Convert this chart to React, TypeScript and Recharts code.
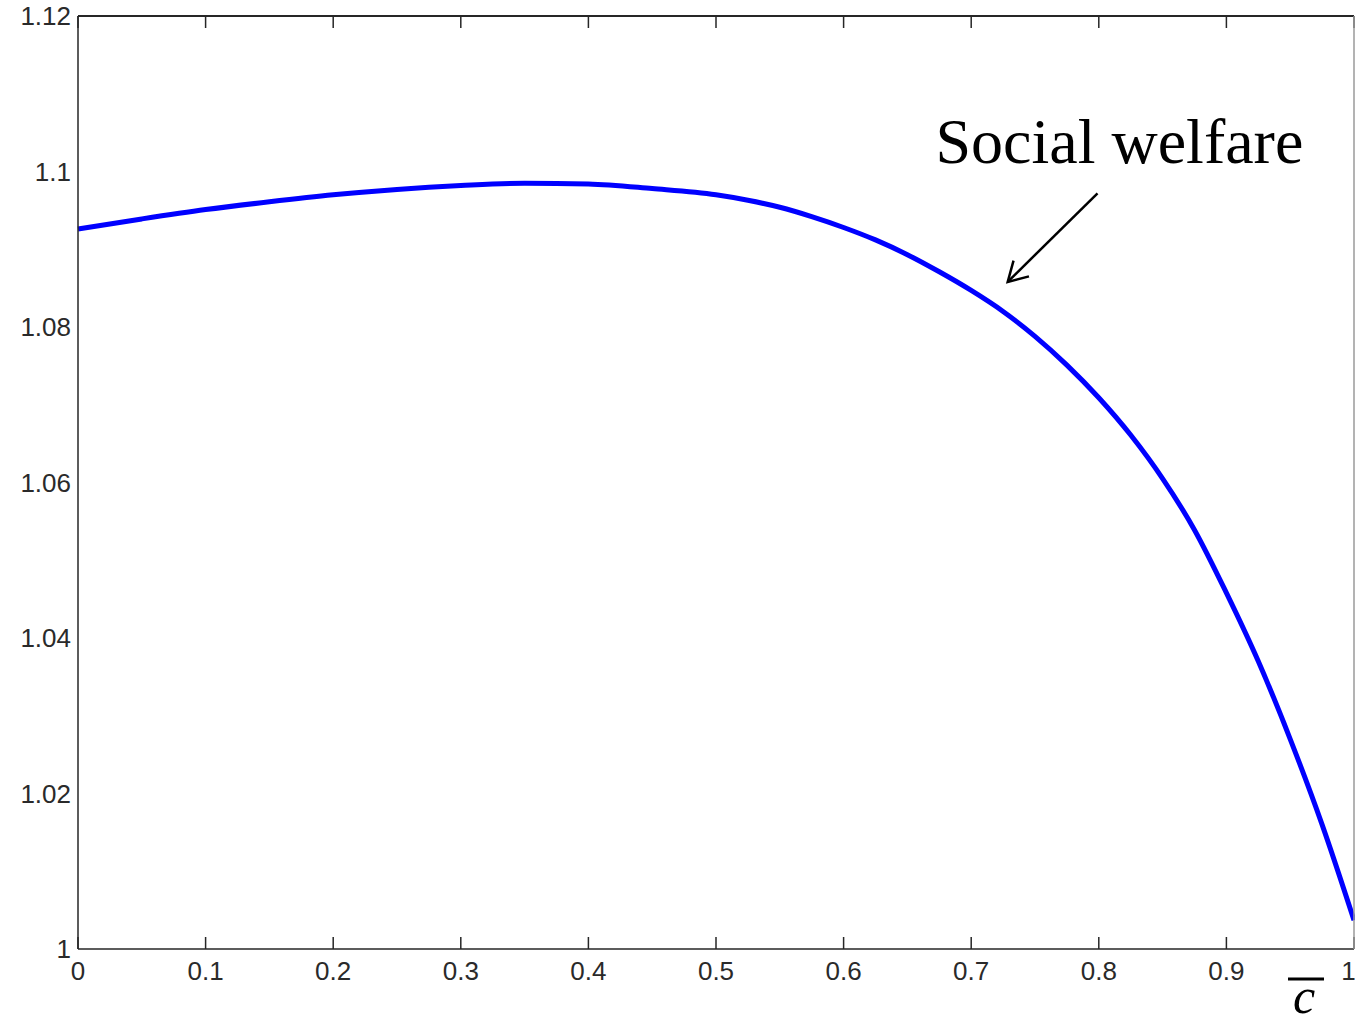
import {
  LineChart, Line, XAxis, YAxis, ReferenceLine,
} from 'recharts';

// c-bar values along the x axis
const cBar = [
  0, 0.05, 0.1, 0.15, 0.2, 0.25, 0.3, 0.35, 0.4, 0.45, 0.5,
  0.525, 0.55, 0.575, 0.6, 0.625, 0.65, 0.675, 0.7, 0.725, 0.75, 0.775,
  0.8, 0.825, 0.85, 0.875, 0.9, 0.925, 0.95, 0.975, 1,
];
// social welfare
const welfare = [
  1.0926, 1.0939, 1.0951, 1.0961, 1.097, 1.0977, 1.0982, 1.0985, 1.0984, 1.0978, 1.097,
  1.0963, 1.0954, 1.0942, 1.0928, 1.0912, 1.0893, 1.0871, 1.0847, 1.082, 1.0788, 1.0751,
  1.0709, 1.0661, 1.0605, 1.0539, 1.0458, 1.037, 1.027, 1.016, 1.0037,
];

const xTicks = [0, 0.1, 0.2, 0.3, 0.4, 0.5, 0.6, 0.7, 0.8, 0.9, 1];
const yTicks = [1, 1.02, 1.04, 1.06, 1.08, 1.1, 1.12];
const yLabels = ['1', '1.02', '1.04', '1.06', '1.08', '1.1', '1.12'];

// arrow for the annotation, in data coordinates (start, tip)
const arrowFrom = { x: 0.799, y: 1.0972 };
const arrowTo = { x: 0.7286, y: 1.0858 };
const annotation = 'Social welfare';

const data = cBar.map((c, i) => ({ c, w: welfare[i] }));

const axisColor = '#262626';
const tickFont = { fontFamily: 'Liberation Sans, Arial, sans-serif', fontSize: 26, fill: '#2a2a2a' };
const frameLine = { stroke: axisColor, strokeWidth: 1.5 };

// frame axes draw tick marks only, no labels
const NoLabel = () => <g />;

function Arrow(props: any) {
  const { x1, y1, x2, y2 } = props;
  const dx = x1 - x2;
  const dy = y1 - y2;
  const len = Math.sqrt(dx * dx + dy * dy);
  const ux = dx / len;
  const uy = dy / len;
  const a = Math.PI / 6;
  const L = 22;
  const w1x = x2 + L * (ux * Math.cos(a) - uy * Math.sin(a));
  const w1y = y2 + L * (ux * Math.sin(a) + uy * Math.cos(a));
  const w2x = x2 + L * (ux * Math.cos(-a) - uy * Math.sin(-a));
  const w2y = y2 + L * (ux * Math.sin(-a) + uy * Math.cos(-a));
  return (
    <g>
      <line x1={x1} y1={y1} x2={x2} y2={y2} stroke="#000" strokeWidth={2.5} />
      <polyline
        points={`${w1x},${w1y} ${x2},${y2} ${w2x},${w2y}`}
        fill="none" stroke="#000" strokeWidth={2.5}
      />
      <text
        x={x1 - 162} y={y1 - 30}
        fontFamily="Liberation Serif, Times New Roman, serif" fontSize={64} fill="#000"
      >
        {annotation}
      </text>
    </g>
  );
}

function CBarLabel(props: any) {
  const { viewBox } = props;
  const right = viewBox.x + viewBox.width;
  const top = viewBox.y;
  return (
    <g>
      <line x1={right - 66} x2={right - 30} y1={top + 30} y2={top + 30} stroke="#000" strokeWidth={3} />
      <text
        x={right - 50} y={top + 64} textAnchor="middle"
        fontFamily="Liberation Serif, Times New Roman, serif" fontStyle="italic" fontSize={50} fill="#000"
      >
        c
      </text>
    </g>
  );
}

export default function App() {
  return (
    <div style={{ position: 'absolute', left: 0, top: 0, background: '#fff' }}>
      <LineChart width={1355} height={1025} data={data} margin={{ top: 16, right: 1, bottom: 0, left: 0 }}>
        {/* labelled axes */}
        <XAxis
          dataKey="c" type="number" domain={[0, 1]} ticks={xTicks}
          height={76} tickSize={0} tickMargin={13}
          axisLine={false} tickLine={false}
          tick={tickFont}
          tickFormatter={(v: number) => String(v)}
          label={{ content: <CBarLabel /> }}
        />
        <YAxis
          type="number" domain={[1, 1.12]} ticks={yTicks} allowDataOverflow
          width={78} tickSize={0} tickMargin={7}
          axisLine={false} tickLine={false}
          tick={tickFont}
          tickFormatter={(v: number) => yLabels[yTicks.indexOf(v)] ?? String(v)}
        />
        {/* frame with inward ticks */}
        <XAxis
          xAxisId="bottomFrame" orientation="bottom" mirror dataKey="c" type="number" domain={[0, 1]}
          ticks={xTicks} height={12} tickSize={12} tick={NoLabel}
          axisLine={frameLine} tickLine={frameLine}
        />
        <XAxis
          xAxisId="topFrame" orientation="top" mirror dataKey="c" type="number" domain={[0, 1]}
          ticks={xTicks} height={12} tickSize={12} tick={NoLabel}
          axisLine={{ stroke: axisColor, strokeWidth: 2 }} tickLine={frameLine}
        />
        <YAxis
          yAxisId="leftFrame" orientation="left" mirror type="number" domain={[1, 1.12]}
          ticks={yTicks} width={12} tickSize={12} tick={NoLabel}
          axisLine={frameLine} tickLine={frameLine}
        />
        <YAxis
          yAxisId="rightFrame" orientation="right" mirror type="number" domain={[1, 1.12]}
          ticks={yTicks} width={12} tickSize={12} tick={NoLabel}
          axisLine={{ stroke: '#9a9a9a', strokeWidth: 1.5 }} tickLine={frameLine}
        />
        <Line
          dataKey="w" type="monotone" stroke="#0000ff" strokeWidth={5}
          dot={false} activeDot={false} isAnimationActive={false}
        />
        <ReferenceLine segment={[arrowFrom, arrowTo]} shape={<Arrow />} />
      </LineChart>
    </div>
  );
}
